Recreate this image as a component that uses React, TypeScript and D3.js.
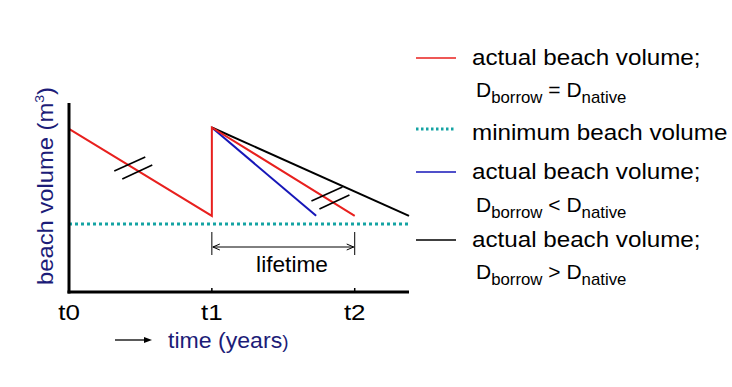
import React from 'react';
import * as d3 from 'd3';

// time positions of the tick labels
const tickLabels = ['t0', 't1', 't2'];
const tickTimes = [0, 1, 2];

// beach volume series (arbitrary units)
const redSeries = [
  { t: 0, v: 2.4 },
  { t: 1, v: 1.12 },
  { t: 1, v: 2.42 },
  { t: 2, v: 1.12 },
];
const blueSeries = [
  { t: 1, v: 2.42 },
  { t: 1.73, v: 1.12 },
];
const blackSeries = [
  { t: 1, v: 2.42 },
  { t: 2.38, v: 1.12 },
];
const minVolume = 1.0;

const legendLabels = ['actual beach volume;', 'minimum beach volume', 'actual beach volume;', 'actual beach volume;'];
const legendColors = ['#e8201e', '#14a3a3', '#1616b8', '#000000'];
const legendRelations = ['=', '', '<', '>'];

const W = 732;
const H = 387;
const navy = '#1c1c78';
const font = 'Liberation Sans, Arial, sans-serif';

// text stretched horizontally a little, like the source picture
const SText: React.FC<{ x: number; y: number; sx?: number; size: number; anchor?: string; fill?: string; rotate?: number; children: React.ReactNode }> =
  ({ x, y, sx = 1, size, anchor = 'start', fill = '#000', rotate = 0, children }) => (
    <text transform={`translate(${x},${y}) rotate(${rotate}) scale(${sx},1)`}
      textAnchor={anchor} fontSize={size} fill={fill}>{children}</text>
  );

const App: React.FC = () => {
  const x = d3.scaleLinear().domain([0, 2.38]).range([69, 409]);
  const y = d3.scaleLinear().domain([0, 2.78]).range([292, 103]);

  const line = d3.line<{ t: number; v: number }>()
    .x(d => x(d.t))
    .y(d => y(d.v));

  // break marks (two short parallel strokes)
  const breakMark = (cx: number, cy: number, key: string) => (
    <g key={key} stroke="#000" strokeWidth={1.6}>
      <line x1={cx - 19} y1={cy + 3} x2={cx + 12} y2={cy - 11} />
      <line x1={cx - 11} y1={cy + 11} x2={cx + 19} y2={cy - 3} />
    </g>
  );

  const legendY = [58, 129, 172, 240];
  const legendTextY = [65, 140, 179, 247];
  const legendSubY = [97, 0, 212, 279];

  return (
    <svg width={W} height={H} style={{ position: 'absolute', left: 0, top: 0, background: '#fff' }} fontFamily={font}>
      <rect width={W} height={H} fill="#fff" />

      {/* minimum volume */}
      <line x1={x(0)} x2={x(2.38)} y1={y(minVolume)} y2={y(minVolume)}
        stroke="#14a3a3" strokeWidth={3} strokeDasharray="3,3" />

      <path d={line(blueSeries) || ''} fill="none" stroke="#1616b8" strokeWidth={2} />
      <path d={line(blackSeries) || ''} fill="none" stroke="#000" strokeWidth={2} />
      <path d={line(redSeries) || ''} fill="none" stroke="#e8201e" strokeWidth={2} />

      {breakMark(x(0.45), 168, 'b1')}
      {breakMark(x(1.83), 198, 'b2')}

      {/* axes */}
      <line x1={x(0)} x2={x(0)} y1={y(2.78)} y2={y(0) + 1.5} stroke="#000" strokeWidth={3} />
      <line x1={x(0) - 1.5} x2={x(2.38)} y1={y(0)} y2={y(0)} stroke="#000" strokeWidth={3} />
      {tickTimes.map((t, i) => (
        <g key={tickLabels[i]}>
          {i > 0 && <line x1={x(t)} x2={x(t)} y1={y(0) - 4} y2={y(0)} stroke="#000" strokeWidth={1.5} />}
          <SText x={x(t)} y={320} size={22} sx={1.18} anchor="middle">{tickLabels[i]}</SText>
        </g>
      ))}

      {/* lifetime annotation */}
      <g stroke="#000" strokeWidth={1}>
        <line x1={x(1)} x2={x(1)} y1={232} y2={255} />
        <line x1={x(2)} x2={x(2)} y1={232} y2={255} />
        <line x1={x(1) + 1} x2={x(2) - 1} y1={247} y2={247} />
        <path d={`M${x(1) + 1},247 l7,-3 M${x(1) + 1},247 l7,3 M${x(2) - 1},247 l-7,-3 M${x(2) - 1},247 l-7,3`} fill="none" />
      </g>
      <SText x={292} y={272} size={22} sx={1.03} anchor="middle">lifetime</SText>

      {/* axis titles */}
      <SText x={53} y={186} size={22} sx={1.08} rotate={-90} anchor="middle" fill={navy}>
        beach volume (m<tspan fontSize={13} dy={-9}>3</tspan><tspan dy={9}>)</tspan>
      </SText>
      <line x1={115} x2={146} y1={340} y2={340} stroke="#000" strokeWidth={1.3} />
      <path d="M152,340 L144,337 L144,343 Z" fill="#000" />
      <SText x={168} y={348} size={22} sx={1.05} fill={navy}>
        time (years<tspan fontSize={18}>)</tspan>
      </SText>

      {/* legend */}
      {legendLabels.map((label, i) => (
        <g key={i}>
          <line x1={416} x2={456} y1={legendY[i]} y2={legendY[i]} stroke={legendColors[i]}
            strokeWidth={i === 1 ? 3 : 1.5} strokeDasharray={i === 1 ? '2.5,2.5' : undefined} />
          <SText x={472} y={legendTextY[i]} size={22} sx={1.1}>{label}</SText>
          {legendRelations[i] && (
            <SText x={476} y={legendSubY[i]} size={20} sx={1.05}>
              D<tspan fontSize={16} dy={6}>borrow</tspan>
              <tspan dy={-6}>{` ${legendRelations[i]} D`}</tspan>
              <tspan fontSize={16} dy={6}>native</tspan>
            </SText>
          )}
        </g>
      ))}
    </svg>
  );
};

export default App;
